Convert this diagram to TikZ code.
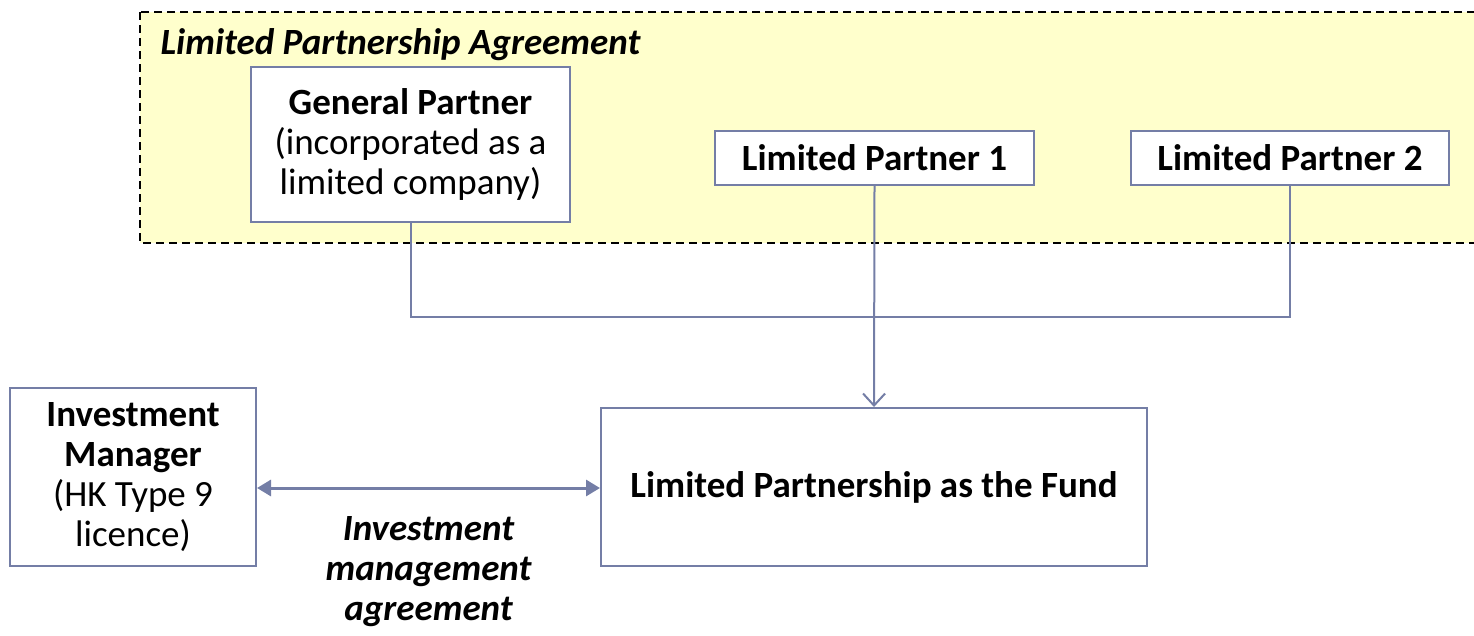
\documentclass[tikz,border=0pt]{standalone}
\usepackage{fontspec}
\setmainfont{Carlito}
\usetikzlibrary{arrows.meta}
\definecolor{linecol}{RGB}{116,126,166}
\definecolor{lpacol}{RGB}{255,255,204}
\tikzset{
	party/.style={draw=linecol, line width=2pt, fill=white, align=center, inner sep=0pt},
	link/.style={draw=linecol, line width=2pt},
}
\begin{document}
\begin{tikzpicture}[x=1pt,y=-1pt,font=\fontsize{37}{40}\selectfont]
	\useasboundingbox (0,0) rectangle (1474,635);
	% agreement area
	\draw[fill=lpacol, line width=1.5pt, dash pattern=on 8pt off 5pt] (140,12) rectangle (1480,243);
	\node[anchor=west](lpa) at (157,45){\textbf{\textit{Limited Partnership Agreement}}};
	% partners
	\node[party, minimum width=319pt, minimum height=155pt](gp) at (410.5,144.5){\textbf{General Partner}\\(incorporated as a\\limited company)};
	\node[party, minimum width=319pt, minimum height=54pt](lpone) at (874.5,158){\textbf{Limited Partner 1}};
	\node[party, minimum width=318pt, minimum height=54pt](lptwo) at (1290,158){\textbf{Limited Partner 2}};
	% fund and manager
	\node[party, minimum width=546pt, minimum height=158pt](fund) at (874,487){\textbf{Limited Partnership as the Fund}};
	\node[party, minimum width=246pt, minimum height=178pt](im) at (133,477){\textbf{Investment}\\\textbf{Manager}\\(HK Type 9\\licence)};
	\coordinate (join) at (874.5,317);
	% connectors
	\draw[link] (gp.south) |- (join) -| (lptwo.south);
	\draw[link, -{Straight Barb[length=12pt, width=22pt]}] (lpone.south) -- (fund.north);
	\draw[link, line width=3pt, {Triangle[length=14pt, width=16pt]}-{Triangle[length=14pt, width=16pt]}] (im.east |- 0,488) -- node[below=24pt, align=center, font=\fontsize{37}{40}\selectfont\bfseries\itshape]{Investment\\management\\agreement} (fund.west |- 0,488);
\end{tikzpicture}
\end{document}
